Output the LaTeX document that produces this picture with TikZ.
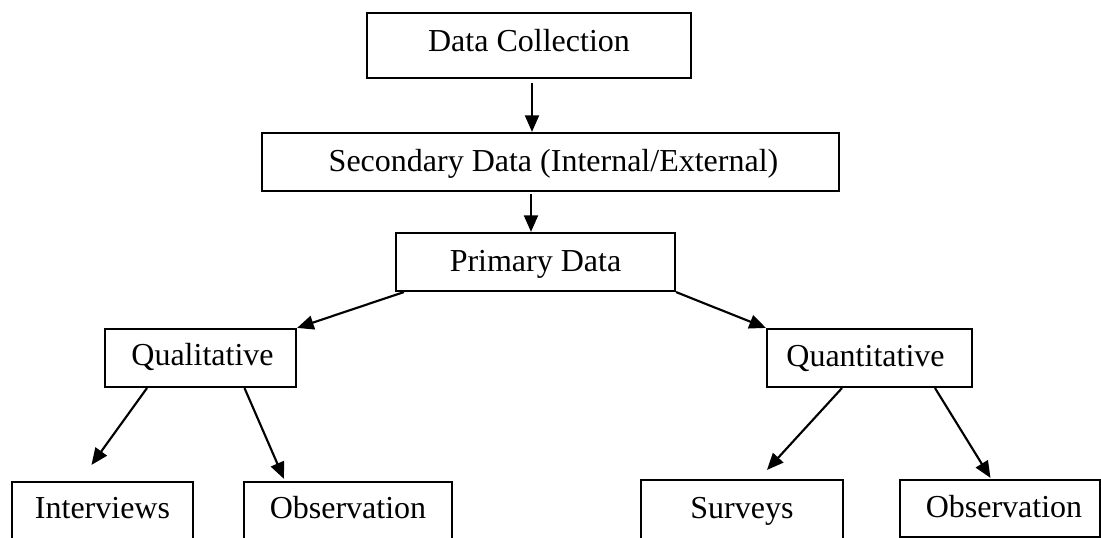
\documentclass[tikz,border=0pt]{standalone}
\usepackage{fontspec}
\setmainfont{Liberation Serif}
\usetikzlibrary{arrows.meta,fit,calc}
\begin{document}
\begin{tikzpicture}[x=0.75pt,y=-0.75pt,
  box/.style={draw=black,line width=1.6pt,inner sep=0pt,rectangle},
  lbl/.style={font=\fontsize{24}{28}\selectfont,anchor=base,inner sep=0pt},
  arr/.style={draw=black,line width=1.6pt,-{Triangle[length=12.5pt,width=10.5pt]}}]
\clip (0,0) rectangle (1101,538);
\fill[white] (0,0) rectangle (1101,538);
\node[box,fit={(367,13) (691,78)}] (dc) {};
\node[lbl] at ($(dc.north)+(0,40)$) {Data Collection};
\node[box,fit={(262,133) (839,191)}] (sec) {};
\node[lbl] at ($(sec.north)+(3,40)$) {Secondary Data (Internal/External)};
\node[box,fit={(396,233) (675,291)}] (pri) {};
\node[lbl] at ($(pri.north)+(0,40)$) {Primary Data};
\node[box,fit={(105,329) (296,387)}] (qual) {};
\node[lbl] at ($(qual.north)+(2,38)$) {Qualitative};
\node[box,fit={(767,329) (972,387)}] (quant) {};
\node[lbl] at ($(quant.north)+(-4,39)$) {Quantitative};
\node[box,fit={(12,482) (193,594)}] (int) {};
\node[lbl] at ($(int.north)+(0,38)$) {Interviews};
\node[box,fit={(244,482) (452,594)}] (obsa) {};
\node[lbl] at ($(obsa.north)+(0,38)$) {Observation};
\node[box,fit={(641,480) (843,594)}] (sur) {};
\node[lbl] at ($(sur.north)+(0,40)$) {Surveys};
\node[box,fit={(900,480) (1100,537)}] (obsb) {};
\node[lbl] at ($(obsb.north)+(4,39)$) {Observation};
\draw[arr] ($(dc.south)+(3,4)$) -- ($(sec.north)+(-18.5,0)$);
\draw[arr] ($(sec.south)+(-19.5,2)$) -- ($(pri.north)+(-4.5,0)$);
\draw[arr] ($(pri.south west)+(9,0)$) -- (qual.north east);
\draw[arr] (pri.south east) -- (quant.north west);
\draw[arr] ($(qual.south)+(-53.5,0)$) -- ($(int.north)+(-11,-16)$);
\draw[arr] ($(qual.south)+(44,0)$) -- ($(obsa.north)+(-64,-2)$);
\draw[arr] ($(quant.south)+(-27.5,0)$) -- ($(sur.north)+(25,-9)$);
\draw[arr] ($(quant.south)+(65.5,0)$) -- ($(obsb.north)+(-9.5,-1)$);
\end{tikzpicture}
\end{document}
